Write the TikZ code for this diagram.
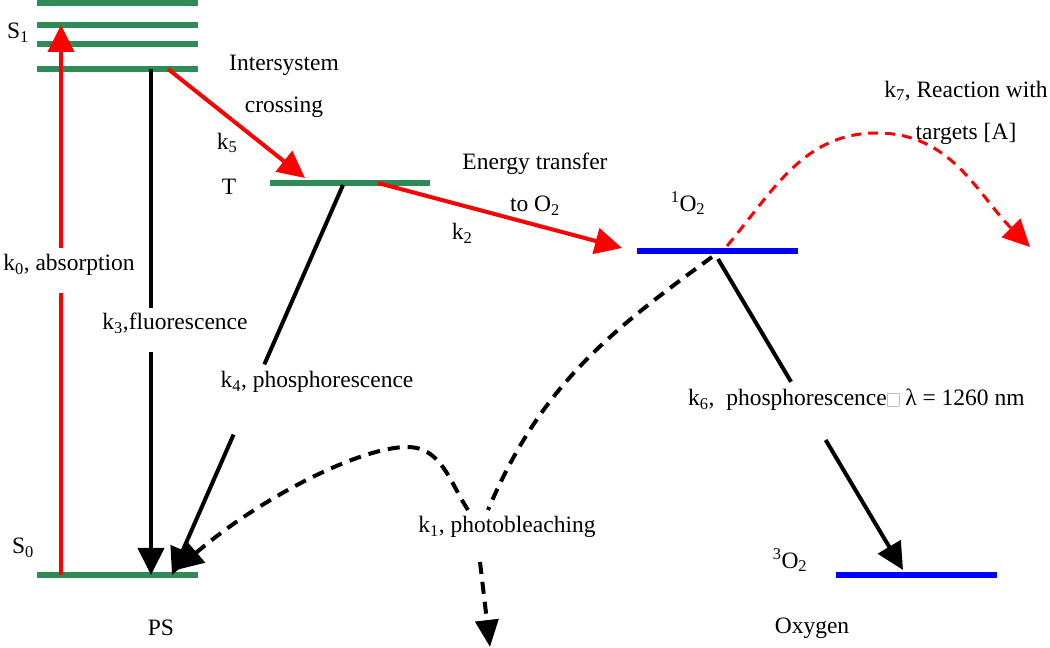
\documentclass[tikz,border=0pt]{standalone}
\usepackage{fontspec}
\setmainfont{Liberation Serif}
\usepackage{xcolor}
\usetikzlibrary{arrows.meta,calc}

\definecolor{lvgreen}{RGB}{46,139,87}
\newcommand{\tofu}{\textcolor{gray!50}{\setlength{\fboxsep}{0pt}\setlength{\fboxrule}{0.8pt}\fbox{\rule{0pt}{12pt}\hspace{11pt}}}}

\begin{document}
\begin{tikzpicture}[x=1pt,y=1pt,
	every node/.style={font=\fontsize{23.5}{42}\selectfont, inner sep=0pt},
	elevel/.style={fill=#1, minimum width=161pt, minimum height=6pt, inner sep=0pt},
	rate/.style={line width=4pt},
	head/.style={-{Triangle[length=27pt,width=26pt]}},
	bleach/.style={line width=4pt, dash pattern=on 12pt off 8pt},
	react/.style={line width=3pt, red, dash pattern=on 10pt off 7pt}]
			\useasboundingbox (0,0) rectangle (1050,648);
			% PS levels
			\foreach \y/\n in {645/S1a,623/S1b,604/S1c,579/S1}
				\node[elevel=lvgreen] (\n) at (117.5,\y) {};
			\node[elevel=lvgreen] (S0) at (117.5,73) {};
			\node[elevel=lvgreen, minimum width=160pt] (T) at (350,465) {};
			% oxygen levels
			\node[elevel=blue] (O1) at (717,397) {};
			\node[elevel=blue] (O3) at (916,73) {};
			% arrow ends
			\coordinate (k0s) at (61,73);
			\coordinate (k0e) at (61,623);
			\coordinate (k3s) at (151,579);
			\coordinate (k3e) at (151,73);
			\coordinate (k5s) at (168,579);
			\coordinate (k5e) at (305,470);
			\coordinate (k2s) at (378,465);
			\coordinate (k2e) at (622,400);
			\coordinate (k4s) at (343,463);
			\coordinate (k4e) at (172,73);
			\coordinate (k6s) at (718,389);
			\coordinate (k6e) at (903,78);
			\coordinate (k7s) at (727,402);
			\coordinate (k7top) at (877,515);
			\coordinate (k7e) at (1030,401);
			\coordinate (k1s) at (712,391);
			\coordinate (k1in) at (488,138);
			\coordinate (k1out) at (468,138);
			\coordinate (k1top) at (407,201);
			\coordinate (k1e) at (176,78);
			\coordinate (k1ds) at (480,86);
			\coordinate (k1de) at (490,1);
			% transitions
			\draw[rate, red] (k0s) -- ($(k0s)!0.513!(k0e)$);
			\draw[rate, red, head] ($(k0s)!0.595!(k0e)$) -- (k0e);
			\draw[rate] (k3s) -- ($(k3s)!0.472!(k3e)$);
			\draw[rate, head] ($(k3s)!0.559!(k3e)$) -- (k3e);
			\draw[rate, red, head] (k5s) -- (k5e);
			\draw[rate, red, head] (k2s) -- (k2e);
			\draw[rate] (k4s) -- ($(k4s)!0.46!(k4e)$);
			\draw[rate, head] ($(k4s)!0.64!(k4e)$) -- (k4e);
			\draw[rate] (k6s) -- ($(k6s)!0.395!(k6e)$);
			\draw[rate, head] ($(k6s)!0.582!(k6e)$) -- (k6e);
			\draw[react, head] (k7s) to[out=50,in=180] (k7top) to[out=0,in=135] (k7e);
			\draw[bleach] (k1s) to[out=216,in=67] (k1in);
			\draw[bleach, head] (k1out) to[out=123,in=0] (k1top) .. controls (360,201) and (260,150) .. (k1e);
			\draw[bleach, -{Triangle[length=27pt,width=23pt]}] (k1ds) -- (k1de);
			% labels
			\node (s1txt) at (18,615) {S\textsubscript{1}};
			\node (s0txt) at (23,100) {S\textsubscript{0}};
			\node (ttxt) at (229,461) {T};
			\node[align=center] (isctxt) at (284,562) {Intersystem\\crossing};
			\node (k5txt) at (227,505) {k\textsubscript{5}};
			\node[align=center] (ettxt) at (535,464) {Energy transfer\\to O\textsubscript{2}};
			\node (k2txt) at (462,415) {k\textsubscript{2}};
			\node (o1txt) at (688,445) {\textsuperscript{1}O\textsubscript{2}};
			\node[align=center] (k7txt) at (966,535.5) {k\textsubscript{7}, Reaction with\\targets [A]};
			\node (k0txt) at (69,383) {k\textsubscript{0}, absorption};
			\node (k3txt) at (175,325) {k\textsubscript{3},fluorescence};
			\node (k4txt) at (317,266) {k\textsubscript{4}, phosphorescence};
			\node[anchor=west] (k6txt) at (688,248) {k\textsubscript{6},\ \ phosphorescence\tofu\ λ = 1260 nm};
			\node (k1txt) at (507,121) {k\textsubscript{1}, photobleaching};
			\node (pstxt) at (161,20) {PS};
			\node (o3txt) at (790,88) {\textsuperscript{3}O\textsubscript{2}};
			\node (oxytxt) at (812,20) {Oxygen};
		\end{tikzpicture}
\end{document}
